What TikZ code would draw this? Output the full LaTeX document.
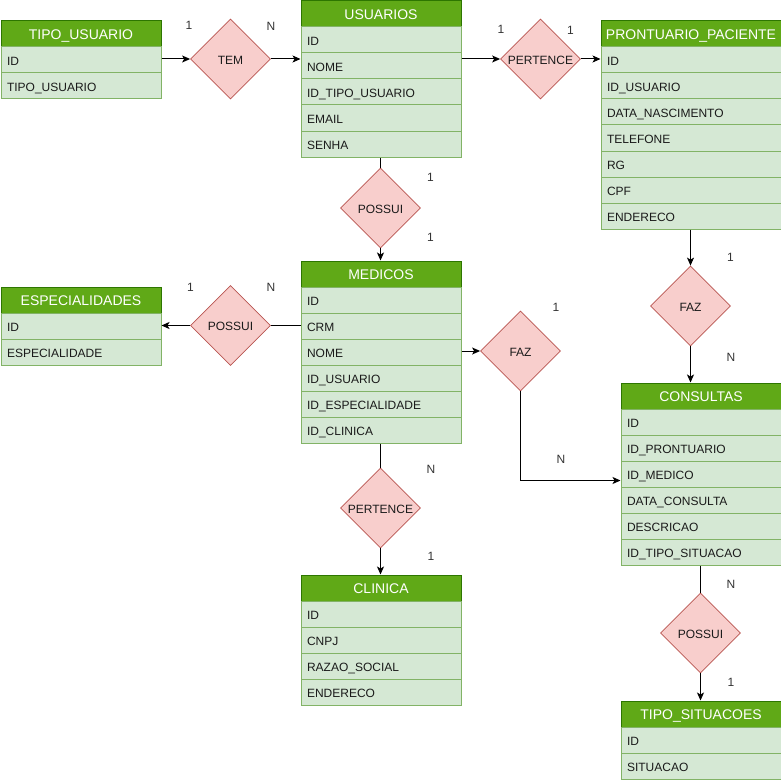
\documentclass[tikz,border=0pt]{standalone}
\usepackage{fontspec}
\setmainfont{Liberation Sans}
\usetikzlibrary{shapes.geometric,arrows.meta}
\definecolor{hdrfill}{HTML}{60A917}
\definecolor{hdrline}{HTML}{2D7600}
\definecolor{fldfill}{HTML}{D5E8D4}
\definecolor{fldline}{HTML}{82B366}
\definecolor{relfill}{HTML}{F8CECC}
\definecolor{relline}{HTML}{B85450}
\definecolor{txt}{HTML}{1A1A1A}
% name, x, y, title, outer width, text width
\newcommand{\erTable}[6]{%
  \node[hdr, minimum width=#5] (#1) at (#2,#3) {#4};
}
\newcommand{\erFields}[5]{% name, x, y, fields, text width
  \foreach \f [count=\i] in {#4} {
    \node[fld, text width=#5] (#1-\i) at (#2, #3+26*\i) {\f};
  }
}
\begin{document}
\begin{tikzpicture}[x=1pt,y=-1pt,
  hdr/.style={rectangle, anchor=north west, draw=hdrline, fill=hdrfill, text=white,
    minimum height=26pt, inner sep=0pt, line width=1pt,
    text height=11.5pt, text depth=0pt,
    font=\fontsize{14}{16}\selectfont},
  fld/.style={rectangle, anchor=north west, draw=fldline, fill=fldfill, text=txt,
    align=left, inner xsep=6pt, inner ysep=0pt,
    text height=10.5pt, text depth=0pt,
    minimum height=26pt, line width=1pt, font=\fontsize{12}{14}\selectfont},
  rel/.style={diamond, aspect=1, draw=relline, fill=relfill, text=txt,
    minimum width=80pt, minimum height=80pt, inner sep=0pt, line width=0.8pt,
    text height=10.5pt, text depth=0pt,
    font=\fontsize{12}{14}\selectfont},
  card/.style={text=black!80, inner sep=0pt, font=\fontsize{12}{14}\selectfont},
  link/.style={line width=1pt, draw=black},
  arr/.style={link, -{Stealth[length=8pt,width=7pt,inset=2pt]}}
]
\useasboundingbox (0,0) rectangle (781,781);

% tables
\erTable{tipo}{0.5}{20.5}{TIPO\_USUARIO}{160pt}{148pt}
\erFields{tipo}{0.5}{20.5}{ID,TIPO\_USUARIO}{148pt}
\erTable{usu}{300.5}{0.5}{USUARIOS}{160pt}{148pt}
\erFields{usu}{300.5}{0.5}{ID,NOME,ID\_TIPO\_USUARIO,EMAIL,SENHA}{148pt}
\erTable{pron}{600.5}{20.5}{PRONTUARIO\_PACIENTE}{180pt}{168pt}
\erFields{pron}{600.5}{20.5}{ID,ID\_USUARIO,DATA\_NASCIMENTO,TELEFONE,RG,CPF,ENDERECO}{168pt}
\erTable{esp}{0.5}{286.5}{ESPECIALIDADES}{160pt}{148pt}
\erFields{esp}{0.5}{286.5}{ID,ESPECIALIDADE}{148pt}
\erTable{med}{300.5}{260.5}{MEDICOS}{160pt}{148pt}
\erFields{med}{300.5}{260.5}{ID,CRM,NOME,ID\_USUARIO,ID\_ESPECIALIDADE,ID\_CLINICA}{148pt}
\erTable{cons}{620.5}{382.5}{CONSULTAS}{160pt}{148pt}
\erFields{cons}{620.5}{382.5}{ID,ID\_PRONTUARIO,ID\_MEDICO,DATA\_CONSULTA,DESCRICAO,ID\_TIPO\_SITUACAO}{148pt}
\erTable{cli}{300.5}{574.5}{CLINICA}{160pt}{148pt}
\erFields{cli}{300.5}{574.5}{ID,CNPJ,RAZAO\_SOCIAL,ENDERECO}{148pt}
\erTable{tsit}{620.5}{700.5}{TIPO\_SITUACOES}{160pt}{148pt}
\erFields{tsit}{620.5}{700.5}{ID,SITUACAO}{148pt}

% relationships
\node[rel] (tem) at (230.5,59) {TEM};
\node[rel] (per1) at (540.5,59) {PERTENCE};
\node[rel] (pos1) at (380.5,208) {POSSUI};
\node[rel] (pos2) at (230.5,325.5) {POSSUI};
\node[rel] (fazr) at (690.5,306) {FAZ};
\node[rel] (fazl) at (520.5,351) {FAZ};
\node[rel] (per2) at (380.5,508) {PERTENCE};
\node[rel] (pos3) at (700.5,633) {POSSUI};

% connectors
\draw[arr] (tem.west -| tipo-1.east) -- (tem.west);
\draw[arr] (tem.east) -- (tem.east -| usu.west);
\draw[arr] (per1.west -| usu.east) -- (per1.west);
\draw[arr] (per1.east) -- (per1.east -| pron.west);
\draw[link] (pos1.north |- usu-5.south) -- (pos1.north);
\draw[arr] (pos1.south) -- (pos1.south |- med.north);
\draw[arr] (fazr.north |- pron-7.south) -- (fazr.north);
\draw[arr] (fazr.south) -- (fazr.south |- cons.north);
\draw[link] (pos2.east -| med-2.west) -- (pos2.east);
\draw[arr] (pos2.west) -- (pos2.west -| esp-1.east);
\draw[arr] (fazl.west -| med-3.east) -- (fazl.west);
\draw[arr] (fazl.south) |- ([yshift=-6.5pt]cons-3.west);
\draw[link] (per2.north |- med-6.south) -- (per2.north);
\draw[arr] (per2.south) -- (per2.south |- cli.north);
\draw[link] (pos3.north |- cons-6.south) -- (pos3.north);
\draw[arr] (pos3.south) -- (pos3.south |- tsit.north);

% cardinalities
\node[card] (c1) at (189,25.5) {1};
\node[card] (c2) at (271,26) {N};
\node[card] (c3) at (501,29.5) {1};
\node[card] (c4) at (570.5,30) {1};
\node[card] (c5) at (430.5,177) {1};
\node[card] (c6) at (430.5,237) {1};
\node[card] (c7) at (190.5,287) {1};
\node[card] (c8) at (271,287) {N};
\node[card] (c9) at (730.5,257) {1};
\node[card] (c10) at (731,357) {N};
\node[card] (c11) at (556,307) {1};
\node[card] (c12) at (561,459) {N};
\node[card] (c13) at (431,469) {N};
\node[card] (c14) at (431,556) {1};
\node[card] (c15) at (731,584.5) {N};
\node[card] (c16) at (731,682) {1};
\end{tikzpicture}
\end{document}
